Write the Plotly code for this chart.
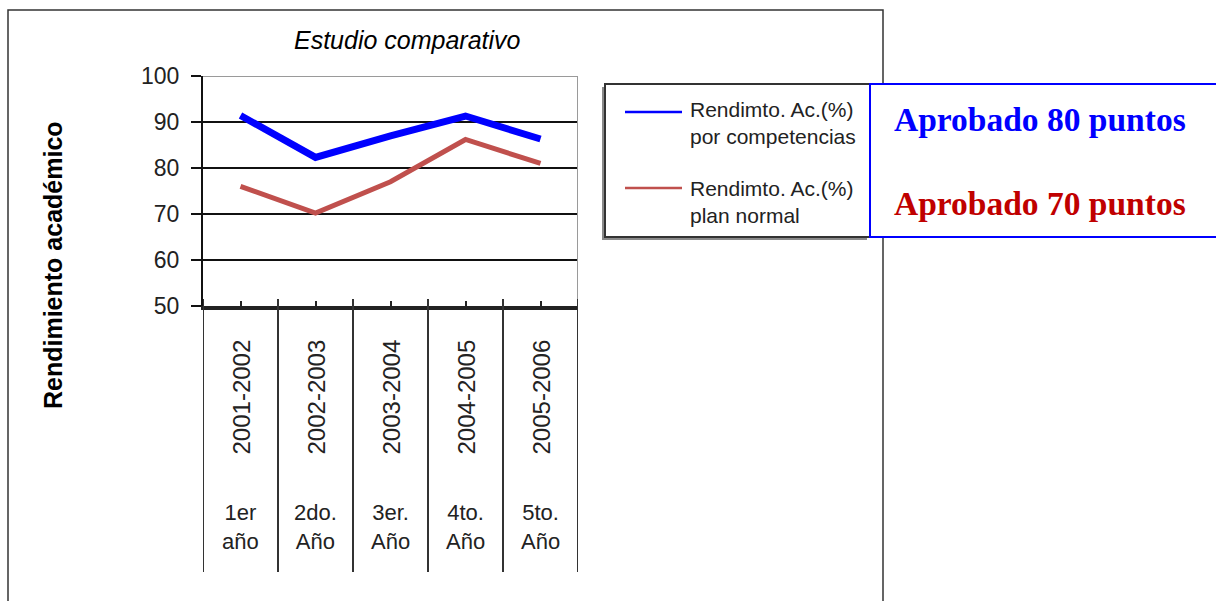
import plotly.graph_objects as go

# ---- data ----
periods = ["2001-2002", "2002-2003", "2003-2004", "2004-2005", "2005-2006"]
years = ["1er<br>año", "2do.<br>Año", "3er.<br>Año", "4to.<br>Año", "5to.<br>Año"]
competencias = [91.4, 82.3, 87.0, 91.3, 86.3]
plan_normal = [76.0, 70.2, 77.0, 86.2, 81.0]
series_names = ["Rendimto. Ac.(%)<br>por competencias", "Rendimto. Ac.(%)<br>plan normal"]
box_texts = ["Aprobado 80 puntos", "Aprobado 70 puntos"]
y_ticks = [50, 60, 70, 80, 90, 100]

W, H = 1216, 601
BLUE = "#0000FF"
RED = "#C0504D"
SANS = "Liberation Sans, Arial, sans-serif"
SERIF = "Liberation Serif, Times New Roman, serif"


def px(x):
    return x / W


def py(y):
    return 1 - y / H


fig = go.Figure()
fig.add_trace(go.Scatter(x=periods, y=competencias, mode="lines",
                         line=dict(color=BLUE, width=7), name=series_names[0],
                         showlegend=False))
fig.add_trace(go.Scatter(x=periods, y=plan_normal, mode="lines",
                         line=dict(color=RED, width=5), name=series_names[1],
                         showlegend=False))

shapes = []
annotations = []

# outer chart frame
shapes.append(dict(type="rect", xref="paper", yref="paper",
                   x0=px(8), x1=px(883), y0=py(640), y1=py(10),
                   line=dict(color="#333333", width=1.5), layer="above"))

# plot area top and right border (gray)
shapes.append(dict(type="line", xref="x", yref="y", x0=-0.5, x1=len(periods) - 0.5,
                   y0=100, y1=100, line=dict(color="#9a9a9a", width=2), layer="above"))
shapes.append(dict(type="line", xref="x", yref="y", x0=len(periods) - 0.5, x1=len(periods) - 0.5,
                   y0=50, y1=100, line=dict(color="#9a9a9a", width=2), layer="above"))

# category separators below x axis
for i in range(len(periods) + 1):
    shapes.append(dict(type="line", xref="x", yref="paper", x0=i - 0.5, x1=i - 0.5,
                       y0=py(572), y1=py(299), line=dict(color="#333333", width=2),
                       layer="above"))

# category labels
for i, (p, yl) in enumerate(zip(periods, years)):
    annotations.append(dict(x=p, xref="x", y=py(397), yref="paper", text=p,
                            textangle=-90, showarrow=False, xanchor="center",
                            yanchor="middle", font=dict(family=SANS, size=24, color="#222222")))
    annotations.append(dict(x=p, xref="x", y=py(527), yref="paper", text=yl,
                            showarrow=False, xanchor="center", yanchor="middle",
                            font=dict(family=SANS, size=22, color="#222222")))

# title
annotations.append(dict(x=px(407), y=py(40), xref="paper", yref="paper",
                        text="<i>Estudio comparativo</i>", showarrow=False,
                        xanchor="center", yanchor="middle",
                        font=dict(family=SANS, size=25, color="#000000")))
# y axis title
annotations.append(dict(x=px(53), y=py(265), xref="paper", yref="paper",
                        text="<b>Rendimiento académico</b>", textangle=-90, showarrow=False,
                        xanchor="center", yanchor="middle",
                        font=dict(family=SANS, size=25, color="#000000")))

# legend box (with shadow)
shapes.append(dict(type="rect", xref="paper", yref="paper",
                   x0=px(602), x1=px(867), y0=py(240), y1=py(87),
                   fillcolor="#8a8a8a", line=dict(width=0), layer="above"))
shapes.append(dict(type="rect", xref="paper", yref="paper",
                   x0=px(605), x1=px(870), y0=py(237), y1=py(84),
                   fillcolor="#FFFFFF", line=dict(color="#333333", width=2), layer="above"))
legend_rows = [123, 202]
legend_colors = [BLUE, RED]
legend_line_y = [112, 188]
for name, col, ty, ly in zip(series_names, legend_colors, legend_rows, legend_line_y):
    shapes.append(dict(type="line", xref="paper", yref="paper",
                       x0=px(625), x1=px(682), y0=py(ly), y1=py(ly),
                       line=dict(color=col, width=2.5), layer="above"))
    annotations.append(dict(x=px(688), y=py(ty), xref="paper", yref="paper",
                            text=name, showarrow=False, xanchor="left", yanchor="middle",
                            align="left",
                            font=dict(family=SANS, size=21, color="#222222")))

# blue note box
shapes.append(dict(type="rect", xref="paper", yref="paper",
                   x0=px(870), x1=px(1220), y0=py(237), y1=py(84),
                   fillcolor="#FFFFFF", line=dict(color=BLUE, width=2), layer="above"))
for txt, col, ty in zip(box_texts, [BLUE, "#C00000"], [119, 204]):
    annotations.append(dict(x=px(892), y=py(ty), xref="paper", yref="paper",
                            text="<b>" + txt + "</b>", showarrow=False,
                            xanchor="left", yanchor="middle",
                            font=dict(family=SERIF, size=33.5, color=col)))

fig.update_layout(
    width=W, height=H,
    margin=dict(l=0, r=0, t=0, b=0, pad=0, autoexpand=False),
    paper_bgcolor="white", plot_bgcolor="white",
    showlegend=False,
    shapes=shapes, annotations=annotations,
    xaxis=dict(domain=[px(203), px(578)], type="category",
               categoryorder="array", categoryarray=periods,
               range=[-0.5, len(periods) - 0.5], automargin=False,
               showgrid=False, zeroline=False,
               showline=True, linecolor="#222222", linewidth=3.5,
               ticks="inside", ticklen=5, tickwidth=2, tickcolor="#222222",
               showticklabels=False),
    yaxis=dict(domain=[py(306), py(76)], range=[50, 100], automargin=False,
               tickvals=y_ticks, ticktext=[str(v) for v in y_ticks],
               showgrid=True, gridcolor="#111111", gridwidth=2,
               zeroline=False,
               showline=True, linecolor="#111111", linewidth=2,
               ticks="outside", ticklen=10, tickwidth=2, tickcolor="#111111",
               ticklabelstandoff=7,
               tickfont=dict(family=SANS, size=23, color="#222222")),
)

fig.write_html("out.html")
